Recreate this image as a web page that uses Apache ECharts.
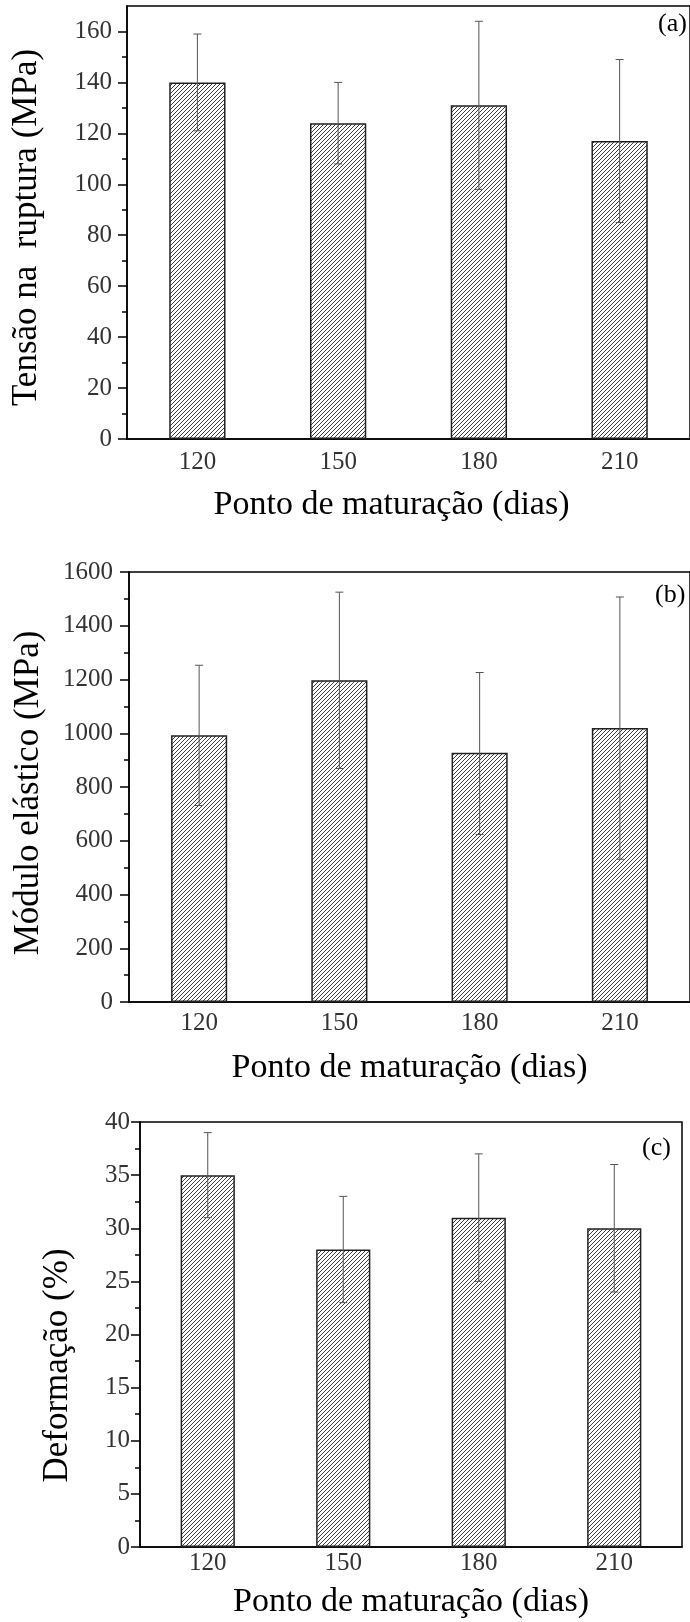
<!DOCTYPE html>
<html>
<head>
<meta charset="utf-8">
<script src="https://cdn.jsdelivr.net/npm/echarts@6/dist/echarts.min.js"></script>
<style>
  html, body { margin: 0; padding: 0; background: #fff; }
  #chart { width: 690px; height: 1622px; }
</style>
</head>
<body>
<div id="chart"></div>
<script>
// ---- data ----
const categories = ['120', '150', '180', '210'];

const tensaoMean = [140, 124, 131, 117];
const tensaoLow  = [121, 108, 98, 85];
const tensaoHigh = [159, 140, 164, 149];

const moduloMean = [993, 1197, 927, 1020];
const moduloLow  = [731, 869, 623, 531];
const moduloHigh = [1253, 1525, 1226, 1507];

const deformMean = [35, 28, 31, 30];
const deformLow  = [31, 23, 25, 24];
const deformHigh = [39, 33, 37, 36];

const panelLabels = ['(a)', '(b)', '(c)'];
const xTitle = 'Ponto de maturação (dias)';
const yTitles = ['Tensão na  ruptura (MPa)', 'Módulo elástico (MPa)', 'Deformação (%)'];
const tensaoTicks = [0, 20, 40, 60, 80, 100, 120, 140, 160];

// ---- styling ----
const FONT = "'Liberation Serif', 'Times New Roman', serif";

function hatch() {
  const s = 4;
  const c = document.createElement('canvas');
  c.width = s; c.height = s;
  const ctx = c.getContext('2d');
  ctx.fillStyle = '#fff';
  ctx.fillRect(0, 0, s, s);
  ctx.strokeStyle = '#2a2a2a';
  ctx.lineWidth = 0.9;
  ctx.beginPath();
  ctx.moveTo(0, s); ctx.lineTo(s, 0);
  ctx.moveTo(-1, 1); ctx.lineTo(1, -1);
  ctx.moveTo(s - 1, s + 1); ctx.lineTo(s + 1, s - 1);
  ctx.stroke();
  return c;
}
const pattern = { image: hatch(), repeat: 'repeat' };

const grids = [
  { left: 127, top: 6, width: 572, height: 433 },
  { left: 129, top: 572, width: 568, height: 430 },
  { left: 140, top: 1122, width: 542, height: 425 }
];

function errRender(params, api) {
  const i = api.value(0);
  const lo = api.coord([i, api.value(1)]);
  const hi = api.coord([i, api.value(2)]);
  const w = 4;
  const st = { stroke: '#555', lineWidth: 1 };
  return {
    type: 'group',
    children: [
      { type: 'line', shape: { x1: hi[0], y1: hi[1], x2: lo[0], y2: lo[1] }, style: st },
      { type: 'line', shape: { x1: hi[0] - w, y1: hi[1], x2: hi[0] + w, y2: hi[1] }, style: st },
      { type: 'line', shape: { x1: lo[0] - w, y1: lo[1], x2: lo[0] + w, y2: lo[1] }, style: st }
    ]
  };
}

const xNameGap = [49, 49, 38];
const xNamePad = [[0, 34, 0, 0], [0, 0, 0, 0], [0, 0, 0, 0]];
const yNameGap = [83, 83, 65];
const yNamePad = [[0, 10, 0, 0], [0, 12, 0, 0], [0, 62, 0, 0]];
const xLabelMargin = [11, 9, 4];
const yLabelMargin = [15, 16, 10];

const yAxisDefs = [
  { min: 0, max: 170, interval: 20 },
  { min: 0, max: 1600, interval: 200 },
  { min: 0, max: 40, interval: 5 }
];

const xAxes = grids.map((g, k) => ({
  type: 'category',
  gridIndex: k,
  data: categories,
  boundaryGap: true,
  axisLine: { show: true, lineStyle: { color: '#000', width: 1.5 } },
  axisTick: { show: false },
  axisLabel: { fontFamily: FONT, fontSize: 25, color: '#333', margin: xLabelMargin[k] },
  name: xTitle,
  nameLocation: 'middle',
  nameGap: xNameGap[k],
  nameTextStyle: { fontFamily: FONT, fontSize: 34, color: '#000', padding: xNamePad[k] },
  splitLine: { show: false }
}));

const yAxes = grids.map((g, k) => {
  const d = yAxisDefs[k];
  const ax = {
    type: 'value',
    gridIndex: k,
    min: d.min, max: d.max, interval: d.interval,
    axisLine: { show: true, lineStyle: { color: '#000', width: 1.5 } },
    axisTick: { show: true, inside: false, length: 9, lineStyle: { color: '#000', width: 1.5 } },
    minorTick: { show: true, splitNumber: 2, length: 5, lineStyle: { color: '#000', width: 1.5 } },
    axisLabel: {
      fontFamily: FONT, fontSize: 25, color: '#333', margin: yLabelMargin[k],
      formatter: v => String(v)
    },
    splitLine: { show: false },
    name: yTitles[k],
    nameLocation: 'middle',
    nameGap: yNameGap[k],
    nameTextStyle: { fontFamily: FONT, fontSize: 35, color: '#000', padding: yNamePad[k] }
  };
  if (k === 0) {
    ax.axisTick.customValues = tensaoTicks;
    ax.axisLabel.customValues = tensaoTicks;
  }
  return ax;
});

const means = [tensaoMean, moduloMean, deformMean];
const lows = [tensaoLow, moduloLow, deformLow];
const highs = [tensaoHigh, moduloHigh, deformHigh];

const series = [];
for (let k = 0; k < 3; k++) {
  series.push({
    type: 'bar',
    xAxisIndex: k, yAxisIndex: k,
    data: means[k],
    barWidth: '40%',
    itemStyle: { color: pattern, borderColor: '#222', borderWidth: 1.5 },
    silent: true,
    z: 2
  });
  series.push({
    type: 'custom',
    xAxisIndex: k, yAxisIndex: k,
    renderItem: errRender,
    encode: { x: 0, y: [1, 2] },
    data: categories.map((c, i) => [i, lows[k][i], highs[k][i]]),
    silent: true,
    z: 5
  });
}

const labelStyle = { fontFamily: FONT, fontSize: 26, fontWeight: 'normal', color: '#000' };
const chart = echarts.init(document.getElementById('chart'), null, { renderer: 'canvas' });
chart.setOption({
  animation: false,
  backgroundColor: '#fff',
  title: [
    { text: panelLabels[0], left: 658, top: 11, padding: 0, textStyle: labelStyle },
    { text: panelLabels[1], left: 655, top: 582, padding: 0, textStyle: labelStyle },
    { text: panelLabels[2], left: 642, top: 1135, padding: 0, textStyle: labelStyle }
  ],
  grid: grids.map(g => Object.assign({ show: true, borderColor: '#000', borderWidth: 1.5, backgroundColor: 'transparent', containLabel: false }, g)),
  xAxis: xAxes,
  yAxis: yAxes,
  series: series
});
</script>
</body>
</html>
